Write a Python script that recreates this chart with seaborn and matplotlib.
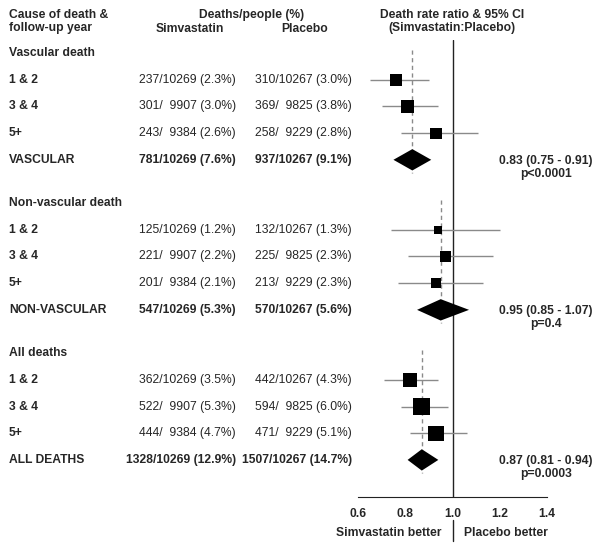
import numpy as np
import pandas as pd
import matplotlib
matplotlib.use("Agg")
import matplotlib.pyplot as plt
import seaborn as sns
from matplotlib.transforms import blended_transform_factory

# ---------------- data ----------------
groups = ["Vascular death", "Non-vascular death", "All deaths"]
years = ["1 & 2", "3 & 4", "5+"]
total_labels = ["VASCULAR", "NON-VASCULAR", "ALL DEATHS"]

simva_deaths = [[237, 301, 243, 781], [125, 221, 201, 547], [362, 522, 444, 1328]]
simva_people = [[10269, 9907, 9384, 10269]] * 3
simva_pct = [[2.3, 3.0, 2.6, 7.6], [1.2, 2.2, 2.1, 5.3], [3.5, 5.3, 4.7, 12.9]]

placebo_deaths = [[310, 369, 258, 937], [132, 225, 213, 570], [442, 594, 471, 1507]]
placebo_people = [[10267, 9825, 9229, 10267]] * 3
placebo_pct = [[3.0, 3.8, 2.8, 9.1], [1.3, 2.3, 2.3, 5.6], [4.3, 6.0, 5.1, 14.7]]

# rate ratios by follow-up year (estimate, lower, upper)
rr_est = [[0.76, 0.81, 0.93], [0.94, 0.97, 0.93], [0.82, 0.87, 0.93]]
rr_lo = [[0.65, 0.70, 0.78], [0.74, 0.81, 0.77], [0.71, 0.78, 0.82]]
rr_hi = [[0.90, 0.94, 1.11], [1.20, 1.17, 1.13], [0.94, 0.98, 1.06]]

# overall rate ratios
tot_est = [0.83, 0.95, 0.87]
tot_lo = [0.75, 0.85, 0.81]
tot_hi = [0.91, 1.07, 0.94]
tot_p = ["p<0.0001", "p=0.4", "p=0.0003"]

xticks = [0.6, 0.8, 1.0, 1.2, 1.4]
xminor = [0.7, 0.9, 1.1, 1.3]

# ---------------- style ----------------
sns.set_style("white")
plt.rcParams["font.family"] = ["Liberation Sans", "DejaVu Sans"]
FS = 8.7
GRAY = "#8a8a8a"

W, H = 600, 549
fig = plt.figure(figsize=(W / 100, H / 100), dpi=100)

# layout: px row mapping y_px = 53 + 26.7 * r
ROW = 26.7
Y0 = 53
GROUP_STEP = 5.62
top_px, bot_px = 40, 497
ax = fig.add_axes([358 / W, (H - bot_px) / H, 189 / W, (bot_px - top_px) / H])
ax.set_xlim(0.6, 1.4)
ax.set_ylim((bot_px - Y0) / ROW, (top_px - Y0) / ROW)

# build data frame of year rows
recs = []
for g in range(3):
    base = g * GROUP_STEP
    for i in range(3):
        recs.append(dict(group=g, row=base + 1 + i, est=rr_est[g][i], lo=rr_lo[g][i],
                         hi=rr_hi[g][i],
                         deaths=simva_deaths[g][i] + placebo_deaths[g][i]))
df = pd.DataFrame(recs)

# CI lines
ax.hlines(df["row"], df["lo"], df["hi"], color=GRAY, lw=1.0, zorder=2)

# squares (area proportional to number of deaths)
dmin, dmax = df["deaths"].min(), df["deaths"].max()
k = 0.1296
sns.scatterplot(data=df, x="est", y="row", size="deaths", sizes=(k * dmin, k * dmax),
                size_norm=(dmin, dmax), marker="s", color="black", linewidth=0,
                legend=False, ax=ax, zorder=3)

# diamonds and dashed reference lines
for g in range(3):
    base = g * GROUP_STEP
    r = base + 4
    est, lo, hi = tot_est[g], tot_lo[g], tot_hi[g]
    ax.fill([lo, est, hi, est], [r, r - 0.4, r, r + 0.4], color="black", lw=0, zorder=3)
    ax.plot([est, est], [base - 0.1, r + 0.5], color=GRAY, lw=1.0,
            ls=(0, (3, 2.5)), zorder=1)

# line of no effect
ax.axvline(1.0, color="#222222", lw=1.0, zorder=1)
ax.plot([1.0, 1.0], [(520 - Y0) / ROW, (541 - Y0) / ROW], color="#222222", lw=1.0,
        clip_on=False)

# axes cosmetics
for s in ["left", "top", "right"]:
    ax.spines[s].set_visible(False)
ax.spines["bottom"].set_color("#222222")
ax.spines["bottom"].set_linewidth(0.8)
ax.set_xticks(xticks)
ax.set_xticklabels([f"{t:.1f}" for t in xticks], fontweight="bold", fontsize=FS)
ax.set_xticks(xminor, minor=True)
ax.tick_params(axis="x", which="major", length=3, width=0.8, direction="out",
               color="#222222", pad=5)
ax.tick_params(axis="x", which="minor", length=2, width=0.8, direction="out",
               color="#222222")
ax.set_yticks([])
ax.set_xlabel("")
ax.set_ylabel("")
ax.patch.set_alpha(0)

# ---------------- texts ----------------
tr = blended_transform_factory(fig.transFigure, ax.transData)


def fx(px):
    return px / W


def fy(py):
    return 1 - py / H


# headers
hdr = dict(fontsize=FS, fontweight="bold", va="center", transform=fig.transFigure)
fig.text(fx(9), fy(15), "Cause of death &", ha="left", **hdr)
fig.text(fx(9), fy(28.5), "follow-up year", ha="left", **hdr)
fig.text(fx(252), fy(15), "Deaths/people (%)", ha="center", **hdr)
fig.text(fx(190), fy(28.5), "Simvastatin", ha="center", **hdr)
fig.text(fx(305), fy(28.5), "Placebo", ha="center", **hdr)
fig.text(fx(452), fy(15), "Death rate ratio & 95% CI", ha="center", **hdr)
fig.text(fx(452), fy(28.5), "(Simvastatin:Placebo)", ha="center", **hdr)


def fmt(d, n, p):
    ns = str(n)
    if len(ns) < 5:
        ns = "  " + ns
    return f"{d}/{ns} ({p:.1f}%)"


for g in range(3):
    base = g * GROUP_STEP
    ax.text(fx(9), base, groups[g], transform=tr, ha="left", va="center",
            fontsize=FS, fontweight="bold")
    for i in range(4):
        r = base + 1 + i
        bold = "bold" if i == 3 else "normal"
        lab = total_labels[g] if i == 3 else years[i]
        ax.text(fx(9), r, lab, transform=tr, ha="left", va="center",
                fontsize=FS, fontweight="bold")
        ax.text(fx(236), r, fmt(simva_deaths[g][i], simva_people[g][i], simva_pct[g][i]),
                transform=tr, ha="right", va="center", fontsize=FS, fontweight=bold)
        ax.text(fx(352), r, fmt(placebo_deaths[g][i], placebo_people[g][i], placebo_pct[g][i]),
                transform=tr, ha="right", va="center", fontsize=FS, fontweight=bold)
    r = base + 4
    ax.text(fx(546), r + 1.5 / ROW, f"{tot_est[g]:.2f} ({tot_lo[g]:.2f} - {tot_hi[g]:.2f})",
            transform=tr, ha="center", va="center", fontsize=FS, fontweight="bold")
    ax.text(fx(546), r + 14 / ROW, tot_p[g], transform=tr, ha="center",
            va="center", fontsize=FS, fontweight="bold")

fig.text(fx(442), fy(533), "Simvastatin better", ha="right", va="center",
         fontsize=FS, fontweight="bold")
fig.text(fx(464), fy(533), "Placebo better", ha="left", va="center",
         fontsize=FS, fontweight="bold")

fig.savefig("out.png", dpi=100, facecolor="white")
